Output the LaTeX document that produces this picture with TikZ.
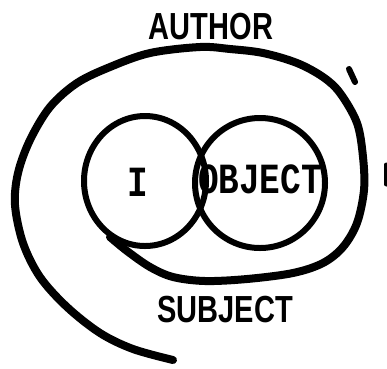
\documentclass[tikz,border=0pt]{standalone}
\usepackage{fontspec}
\usepackage{tikz}
\newfontfamily\wordfont[FakeStretch=0.77]{Liberation Sans}
\newfontfamily\typefont[FakeStretch=0.8]{Liberation Mono}

\begin{document}
\begin{tikzpicture}[
      x=1pt, y=-1pt,
      ink/.style={draw=black, line cap=round, line join=round},
      spiral/.style={ink, line width=8pt},
      ring/.style={ink, line width=6pt},
      word/.style={inner sep=0pt, font=\wordfont\bfseries\fontsize{37.7}{40}\selectfont},
      typed/.style={inner sep=0pt, font=\typefont\bfseries\fontsize{43}{45}\selectfont}
    ]
      \useasboundingbox (0,0) rectangle (387,368);
      % the two rings
      \draw[ring] (145,181) ellipse (61 and 65);
      \draw[ring] (260,183) circle (65);
      \node[typed] (self) at (138,182) {I};
      \node[typed] (object) at (260,179) {OBJECT};
      % the spiral round them
      \draw[spiral] plot[smooth, tension=0.55] coordinates {
        (173,360) (133,349) (100,333) (67,307) (40,277) (23,243) (15,205)
        (18,173) (30,140) (50,107) (77,83) (110,67) (150,53) (200,47)
        (230,49) (263,53) (297,63) (323,77) (340,93) (357,123) (363,157)
        (364,190) (357,223) (343,247) (323,263) (293,273) (247,279)
        (205,281) (173,277) (150,267) (127,251) (110,237)};
      \node[word] (author) at (211,27) {AUTHOR};
      \node[word] (subject) at (225,310) {SUBJECT};
      % stray marks
      \draw[ink, line width=6pt] (349,69) -- (355,82);
      \draw[ink, line width=5pt] (386,165) -- (386,184);
    \end{tikzpicture}
\end{document}
